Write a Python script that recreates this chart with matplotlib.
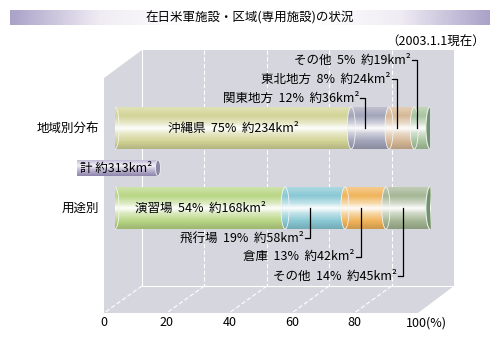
import matplotlib
matplotlib.use("Agg")
import matplotlib.pyplot as plt
import numpy as np
from matplotlib.colors import LinearSegmentedColormap, to_rgb
from matplotlib.patches import Polygon, Ellipse, Rectangle

plt.rcParams['font.family'] = ['Noto Sans CJK JP', 'DejaVu Sans']

# データ
title = "在日米軍施設・区域(専用施設)の状況"
date_note = "（2003.1.1現在）"
rows = ["地域別分布", "用途別"]
total_label = "計 約313km²"

region_names = ["沖縄県", "関東地方", "東北地方", "その他"]
region_pct = [75, 12, 8, 5]
region_km2 = [234, 36, 24, 19]
region_colors = ["#d2d496", "#a2a4ba", "#d6b896", "#a8c49e"]

use_names = ["演習場", "飛行場", "倉庫", "その他"]
use_pct = [54, 19, 13, 14]
use_km2 = [168, 58, 42, 45]
use_colors = ["#b8d684", "#88c8d4", "#f0b45a", "#a4b694"]

ticks = [0, 20, 40, 60, 80, 100]
tick_labels = ["0", "20", "40", "60", "80", "100(%)"]

wall = "#d6d6de"
cap_color = "#6e9272"
fs = 9

fig = plt.figure(figsize=(5, 3.39), dpi=100)

# 背景 (ピクセル座標)
bg = fig.add_axes([0, 0, 1, 1])
bg.set_xlim(0, 500)
bg.set_ylim(339, 0)
bg.axis("off")

# タイトルバー
xs = np.linspace(10, 490, 400)
f = np.clip((np.abs(xs - 250) - 60) / 180, 0, 1).reshape(1, -1)
title_cmap = LinearSegmentedColormap.from_list("t", ["#ffffff", "#f0ecf4", "#aaa2c8"])
bg.imshow(f, extent=(10, 490, 25, 10), cmap=title_cmap, aspect="auto", vmin=0, vmax=1)
bg.text(250, 17.5, title, ha="center", va="center", fontsize=fs)
bg.text(485, 42, date_note, ha="right", va="center", fontsize=fs)

# 壁と床
bg.add_patch(Polygon([(104, 78), (142, 50), (454, 50), (454, 286), (418, 313), (104, 313)],
                     closed=True, facecolor=wall, edgecolor="none", zorder=1))
for v in ticks[:-1]:
    xb = 142 + v * 3.12
    xf = 104 + v * 3.13
    ls = "-" if v == 0 else (0, (4, 2))
    bg.plot([xb, xb], [50, 286], color="white", lw=0.8, ls=ls, zorder=1.5)
    bg.plot([xb, xf], [286, 313], color="white", lw=0.8, ls=(0, (4, 2)), zorder=1.5)
bg.plot([142, 454], [286, 286], color="white", lw=0.8, zorder=1.5)
for v, lab in zip(ticks, tick_labels):
    x = 104 + v * 3.135
    if v == 100:
        bg.text(x - 12, 323, lab, ha="left", va="center", fontsize=fs)
    else:
        bg.text(x, 323, lab, ha="center", va="center", fontsize=fs)

# 行ラベル
bg.text(99, 128, rows[0], ha="right", va="center", fontsize=fs)
bg.text(99, 208, rows[1], ha="right", va="center", fontsize=fs)

# 合計ラベル
pill_cmap = LinearSegmentedColormap.from_list(
    "p", [(0, "#c4bcd8"), (0.35, "#f4f2f8"), (0.6, "#c4bcd6"), (1, "#8e86ac")])
g = np.linspace(0, 1, 32).reshape(-1, 1)
pill = Rectangle((77, 160), 81, 16, facecolor="none", edgecolor="none", zorder=2)
bg.add_patch(pill)
im = bg.imshow(g, extent=(77, 158, 176, 160), cmap=pill_cmap, aspect="auto", zorder=2)
im.set_clip_path(pill)
bg.add_patch(Ellipse((158, 168), 5, 16, facecolor="#8a88a2", edgecolor="#f0f0f0", lw=0.6, zorder=3))
bg.text(80, 168, total_label, ha="left", va="center", fontsize=fs, zorder=4)
bg.set_xlim(0, 500)
bg.set_ylim(339, 0)


def grad_cmap(c):
    c = np.array(to_rgb(c))
    w = np.ones(3)
    stops = [(0, c * 0.7 + w * 0.3), (0.2, c), (0.4, c * 0.45 + w * 0.55), (0.5, w),
             (0.62, c * 0.5 + w * 0.5), (0.82, c), (1.0, c * 0.86)]
    return LinearSegmentedColormap.from_list("g", stops)


# 円柱 (データ座標)
ax = fig.add_axes([115 / 500, 1 - 248 / 339, 315 / 500, 160 / 339])
ax.patch.set_alpha(0)
h = 0.525
end_w = 2.6

series = [(0, region_names, region_pct, region_km2, region_colors, -1),
          (1, use_names, use_pct, use_km2, use_colors, 1)]
levels = [0, 0.375, 0.61, 0.85]

for row, names, pct, km2, colors, side in series:
    lefts = np.concatenate([[0], np.cumsum(pct)[:-1]])
    bars = ax.barh(row, pct, left=lefts, height=h, color="none", edgecolor="none")
    for i, bar in enumerate(bars):
        x0, w = bar.get_x(), bar.get_width()
        cm = grad_cmap(colors[i])
        im = ax.imshow(g, extent=(x0, x0 + w, row + h / 2, row - h / 2), cmap=cm, aspect="auto")
        im.set_clip_path(bar)
        el = Ellipse((x0, row), end_w, h, facecolor="none", edgecolor="none")
        ax.add_patch(el)
        im2 = ax.imshow(g, extent=(x0 - end_w / 2, x0, row + h / 2, row - h / 2), cmap=cm, aspect="auto")
        im2.set_clip_path(el)
        ax.add_patch(Ellipse((x0, row), end_w, h, facecolor="none", edgecolor="#f4f4f4",
                             lw=0.6, zorder=3))
        label = f"{names[i]}  {pct[i]}%  約{km2[i]}km²"
        if i == 0:
            ax.text(x0 + w / 2, row, label, ha="center", va="center", fontsize=fs, zorder=5)
        else:
            xl = x0 + w / 2 - 1.5
            yl = row + side * levels[i]
            ax.plot([xl - 1.6, xl, xl], [yl, yl, row], color="black", lw=0.9,
                    clip_on=False, zorder=5)
            ax.text(xl - 2.0, yl, label, ha="right", va="center", fontsize=fs, zorder=5)
    ax.add_patch(Ellipse((100, row), end_w, h, facecolor=cap_color, edgecolor="#e8efe4",
                         lw=0.8, zorder=4))

ax.set_xlim(0, 100)
ax.set_ylim(1.5, -0.5)
ax.axis("off")

fig.savefig("out.png", dpi=100)
